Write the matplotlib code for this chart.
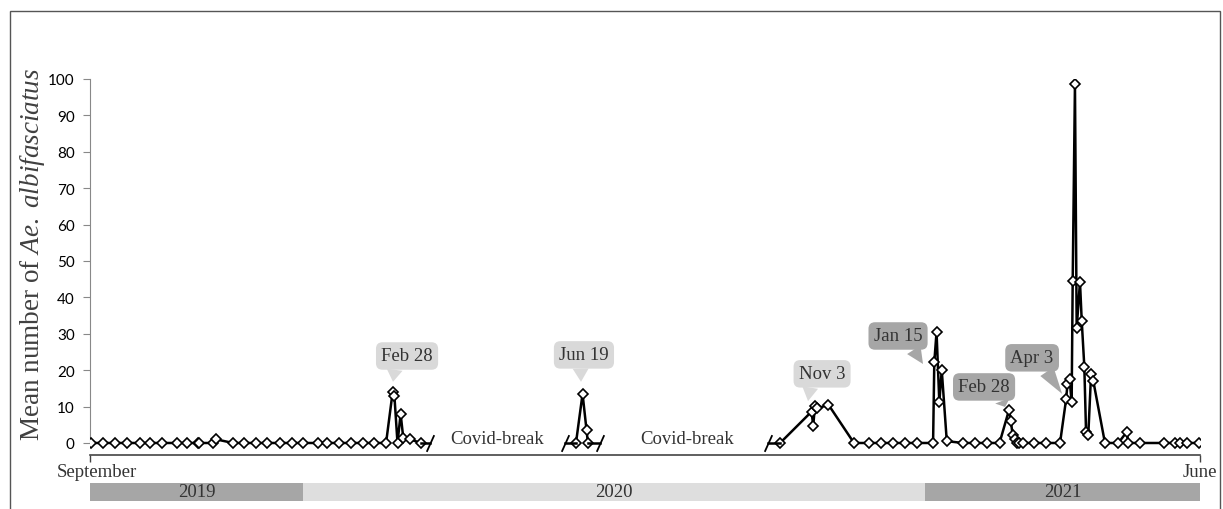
import matplotlib
matplotlib.use("Agg")
import matplotlib.pyplot as plt
from matplotlib.path import Path
from matplotlib.patches import Rectangle
import matplotlib.transforms as mtransforms

plt.rcParams["font.family"] = "Liberation Serif"
plt.rcParams["mathtext.fontset"] = "custom"
plt.rcParams["mathtext.rm"] = "Liberation Serif"
plt.rcParams["mathtext.it"] = "Liberation Serif:italic"

# days since 1 September 2019 and mean catch per sample
seg1_day = [0.6, 7.5, 14.4, 21.3, 28.8, 34.6, 41.5, 50.2, 55.9, 62.3, 63.1, 70.9,
            72.7, 82.5, 88.8, 95.7, 102.1, 109.6, 116.5, 122.8, 131.5, 136.7, 143.6,
            150.5, 157.4, 163.8, 170.7, 174.5, 175.5, 177.3, 179.1, 180.6, 184.5, 190.9]
seg1_val = [0, 0, 0, 0, 0, 0, 0, 0, 0, 0, 0, 0,
            1.0, 0, 0, 0, 0, 0, 0, 0, 0, 0, 0,
            0, 0, 0, 0, 14.0, 13.0, 0, 8.0, 1.5, 1.0, 0]

seg2_day = [280.2, 284.0, 286.3, 287.1]
seg2_val = [0, 13.5, 3.5, 0]

seg3_day = [397.9, 416.0, 417.0, 418.0, 419.4, 425.8, 440.5, 449.2, 456.1, 463.0,
            469.9, 476.6, 486.1, 486.8, 488.1, 489.7, 491.1, 494.0, 503.4, 510.3,
            517.2, 524.4, 529.9, 530.9, 532.0, 533.4, 534.7, 535.8, 537.8, 544.3,
            551.2, 559.3, 562.8, 563.6, 564.8, 566.0, 566.6, 567.9, 568.9, 570.8,
            571.8, 573.3, 574.3, 575.6, 577.2, 578.5, 585.2, 592.9, 597.7, 598.7,
            605.4, 619.3, 625.6, 628.5, 632.5, 639.6]
seg3_val = [0, 8.6, 4.8, 10.2, 9.5, 10.5, 0, 0, 0, 0,
            0, 0, 0, 22.2, 30.5, 11.2, 20.0, 0.5, 0, 0,
            0, 0, 9.1, 6.1, 2.2, 1.1, 0, 0, 0, 0,
            0, 0, 12.0, 16.2, 17.5, 11.3, 44.5, 98.5, 31.5, 44.3,
            33.6, 21.0, 3.0, 2.3, 19.0, 17.0, 0, 0, 3.0, 0,
            0, 0, 0, 0, 0, 0]

# axis break positions (days)
breaks = [196.0, 273.9, 294.1, 390.9]
break_labels = ["Covid-break", "Covid-break"]
break_label_day = [234.7, 344.2]

years = ["2019", "2020", "2021"]
year_start = [0, 122.8, 481.5]
year_end = [122.8, 481.5, 640]

month_ticks = [0, 640]
month_labels = ["September", "June"]

light = "#d9d9d9"
dark = "#a6a6a6"
# label, arrow tip, box centre, colour, where the pointer leaves the box
callouts = [
    ("Feb 28", (174.7, 16.8), (182.8, 23.9), light, (0.28, 0.15)),
    ("Jun 19", (283.1, 16.8), (284.8, 24.2), light, (0.43, 0.15)),
    ("Nov 3", (414.0, 11.5), (422.1, 19.0), light, (0.27, 0.15)),
    ("Jan 15", (480.3, 21.7), (465.9, 29.4), dark, (0.72, 0.15)),
    ("Feb 28", (527.6, 9.9), (515.5, 15.4), dark, (0.8, 0.15)),
    ("Apr 3", (560.5, 13.5), (543.2, 23.4), dark, (0.72, 0.15)),
]

W, H = 1223, 510
fig = plt.figure(figsize=(W / 100, H / 100), dpi=100)
ax = fig.add_axes([90 / W, 1 - 456 / H, 1110 / W, 376 / H])

line_kw = dict(color="black", lw=1.8, zorder=3)
mark_kw = dict(marker="D", ms=5, mfc="white", mec="black", mew=1.2)
for d, v in [(seg1_day, seg1_val), (seg2_day, seg2_val), (seg3_day, seg3_val)]:
    ax.plot(d, v, **line_kw, **mark_kw)

# flat stubs running into the break marks
ax.plot([seg1_day[-1], breaks[0]], [0, 0], **line_kw)
ax.plot([breaks[1], seg2_day[0]], [0, 0], **line_kw)
ax.plot([seg2_day[-1], breaks[2]], [0, 0], **line_kw)
ax.plot([breaks[3], seg3_day[0]], [0, 0], **line_kw)

slash = Path([(-0.45, -1), (0.45, 1)], [Path.MOVETO, Path.LINETO])
ax.plot(breaks, [0] * len(breaks), ls="none", marker=slash, ms=12,
        mec="black", mew=1.3, zorder=3)

for txt, d in zip(break_labels, break_label_day):
    ax.text(d, 1.3, txt, ha="center", va="center", fontsize=13.5, color="#333333")

for txt, tip, box, col, rp in callouts:
    ax.annotate(txt, xy=tip, xytext=box, ha="center", va="center",
                fontsize=13.5, color="#333333", zorder=2,
                bbox=dict(boxstyle="round,pad=0.28,rounding_size=0.35", fc=col, ec="none"),
                arrowprops=dict(arrowstyle="wedge,tail_width=0.85", fc=col, ec="none",
                                relpos=rp, shrinkA=0, shrinkB=0))

ax.set_xlim(0, 640)
ax.set_ylim(-3.3, 100)
ax.set_yticks(range(0, 101, 10))
ax.set_xticks(month_ticks)
ax.set_xticklabels(month_labels, fontsize=13.5, color="#333333")
for lab in ax.get_yticklabels():
    lab.set_fontfamily("Lato")
    lab.set_fontsize(11)
ax.tick_params(axis="y", direction="out", length=5, width=0.8, color="#888888", pad=6)
ax.tick_params(axis="x", direction="out", length=5, width=1.0, color="#444444", pad=1)
# nudge "September" a little to the right of its tick
sep = ax.get_xticklabels()[0]
sep.set_transform(sep.get_transform() + mtransforms.ScaledTranslation(0.07, 0, fig.dpi_scale_trans))

ax.spines["top"].set_visible(False)
ax.spines["right"].set_visible(False)
ax.spines["left"].set_bounds(0, 100)
ax.spines["left"].set_color("#888888")
ax.spines["bottom"].set_color("#444444")
ax.spines["bottom"].set_linewidth(1.2)

# year bands under the axis
trans = mtransforms.blended_transform_factory(ax.transData, ax.transAxes)
band_cols = [dark, "#dedede", dark]
for y, s, e, c in zip(years, year_start, year_end, band_cols):
    ax.add_patch(Rectangle((s, -0.1223), e - s, 0.0478, transform=trans,
                           fc=c, ec="none", clip_on=False))
    ax.text((s + e) / 2, -0.0984, y, transform=trans, ha="center", va="center",
            fontsize=13.5, color="#333333")

fig.text(33 / W, 1 - 254 / H, r"Mean number of $\mathit{Ae.\ albifasciatus}$",
         rotation=90, ha="center", va="center", fontsize=19.5, color="#404040")

# thin frame around the whole figure
fig.add_artist(Rectangle((10 / W, -0.1), 1210 / W, 1 - 12 / H + 0.1,
                         transform=fig.transFigure, fill=False, ec="#555555", lw=1))

fig.savefig("out.png", dpi=100)
